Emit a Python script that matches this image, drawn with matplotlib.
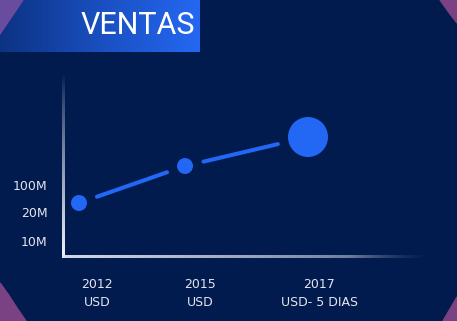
import matplotlib
matplotlib.use("Agg")
import matplotlib.pyplot as plt
import numpy as np
from matplotlib.colors import LinearSegmentedColormap, to_rgb
from matplotlib.patches import Polygon

# --- data ---
years = ["2012", "2015", "2017"]
units = ["USD", "USD", "USD- 5 DIAS"]
point_x = [0.16, 1.22, 2.45]
point_y = [0.54, 0.91, 1.20]
point_r = [8, 8, 20]            # radius in px
label_x = [0.34, 1.37, 2.56]
ytick_pos = [0.16, 0.45, 0.72]
ytick_labels = ["10M", "20M", "100M"]
title = "VENTAS"

BG = "#011b4f"
BLUE = "#2367f5"
PURPLE = "#7a4282"
TXT = "#e4e6ee"

W, H = 457, 321
fig = plt.figure(figsize=(W / 100, H / 100), dpi=100)
fig.patch.set_facecolor(BG)


def fpx(x, y):
    return (x / W, 1 - y / H)


# purple corners of the frame
corners = [
    [(440, 0), (445, 7), (450, 14), (457, 23), (457, 0)],
    [(0, 283), (8, 294), (17, 308), (26, 321), (0, 321)],
    [(443, 321), (450, 309), (457, 297), (457, 321)],
]
for c in corners:
    fig.patches.append(Polygon([fpx(*p) for p in c], closed=True,
                               transform=fig.transFigure, color=PURPLE, zorder=0))

# title banner with gradient
axb = fig.add_axes([0, 1 - 52 / H, 200 / W, 52 / H])
cmap = LinearSegmentedColormap.from_list("ban", ["#0c3282", "#1a4fc0", "#2468f2"])
axb.imshow(np.linspace(0, 1, 256).reshape(1, -1), aspect="auto", cmap=cmap,
           extent=[0, 1, 0, 1])
axb.add_patch(Polygon([(0, 1), (23 / 200, 1), (0, 1 - 34 / 52)], closed=True,
                      color="#6a4c9f", zorder=3))
axb.set_xlim(0, 1)
axb.set_ylim(0, 1)
axb.axis("off")
axb.text(138 / 200, 0.5, title, color="white", fontsize=22, family="Roboto",
         ha="center", va="center", zorder=4)

# main plot area
ax = fig.add_axes([63 / W, (H - 257) / H, 367 / W, 182 / H])
ax.set_facecolor("none")
ax.set_xlim(0, 3.67)
ax.set_ylim(0, 1.82)
for s in ax.spines.values():
    s.set_visible(False)

# gradient axis lines drawn as thin images
lw = 0.015
t = np.linspace(0, 1, 256)
a = np.clip(1 - t, 0, 1) ** 0.8
img = np.zeros((256, 1, 4))
img[:, 0, :3] = to_rgb("#f2f4fa")
img[:, 0, 3] = a
ax.imshow(img, extent=[-lw, lw, -lw, 1.82], origin="lower", aspect="auto",
          interpolation="bilinear", clip_on=False, zorder=2)

a = np.clip(0.95 - 0.5 * t - 0.3 * t ** 6, 0, 1)
a[t > 0.78] *= np.clip((1 - t[t > 0.78]) / 0.22, 0, 1)
img = np.zeros((1, 256, 4))
img[0, :, :3] = to_rgb("#dfe4f0")
img[0, :, 3] = a
ax.imshow(img, extent=[-lw, 3.67, -lw, lw], origin="lower", aspect="auto",
          interpolation="bilinear", clip_on=False, zorder=2)
ax.set_xlim(0, 3.67)
ax.set_ylim(0, 1.82)

# connecting dashes with gaps around the circles
for i in range(len(point_x) - 1):
    x0, y0, x1, y1 = point_x[i], point_y[i], point_x[i + 1], point_y[i + 1]
    d = np.hypot(x1 - x0, y1 - y0)
    ux, uy = (x1 - x0) / d, (y1 - y0) / d
    g0 = (point_r[i] + 11) / 100
    g1 = (point_r[i + 1] + 11) / 100
    ax.plot([x0 + ux * g0, x1 - ux * g1], [y0 + uy * g0, y1 - uy * g1],
            color=BLUE, lw=2.9, solid_capstyle="round")

sizes = [(2 * r * 0.72) ** 2 for r in point_r]
ax.scatter(point_x, point_y, s=sizes, color=BLUE, edgecolors="none", zorder=3)

ax.set_yticks(ytick_pos, ytick_labels)
ax.set_xticks(label_x, [f"{y}\n{u}" for y, u in zip(years, units)])
ax.tick_params(length=0, colors=TXT, labelsize=9)
ax.tick_params(axis="y", pad=11)
ax.tick_params(axis="x", pad=15)
for lab in ax.get_xticklabels():
    lab.set_linespacing(1.5)

fig.savefig("out.png", dpi=100, facecolor=fig.get_facecolor())
